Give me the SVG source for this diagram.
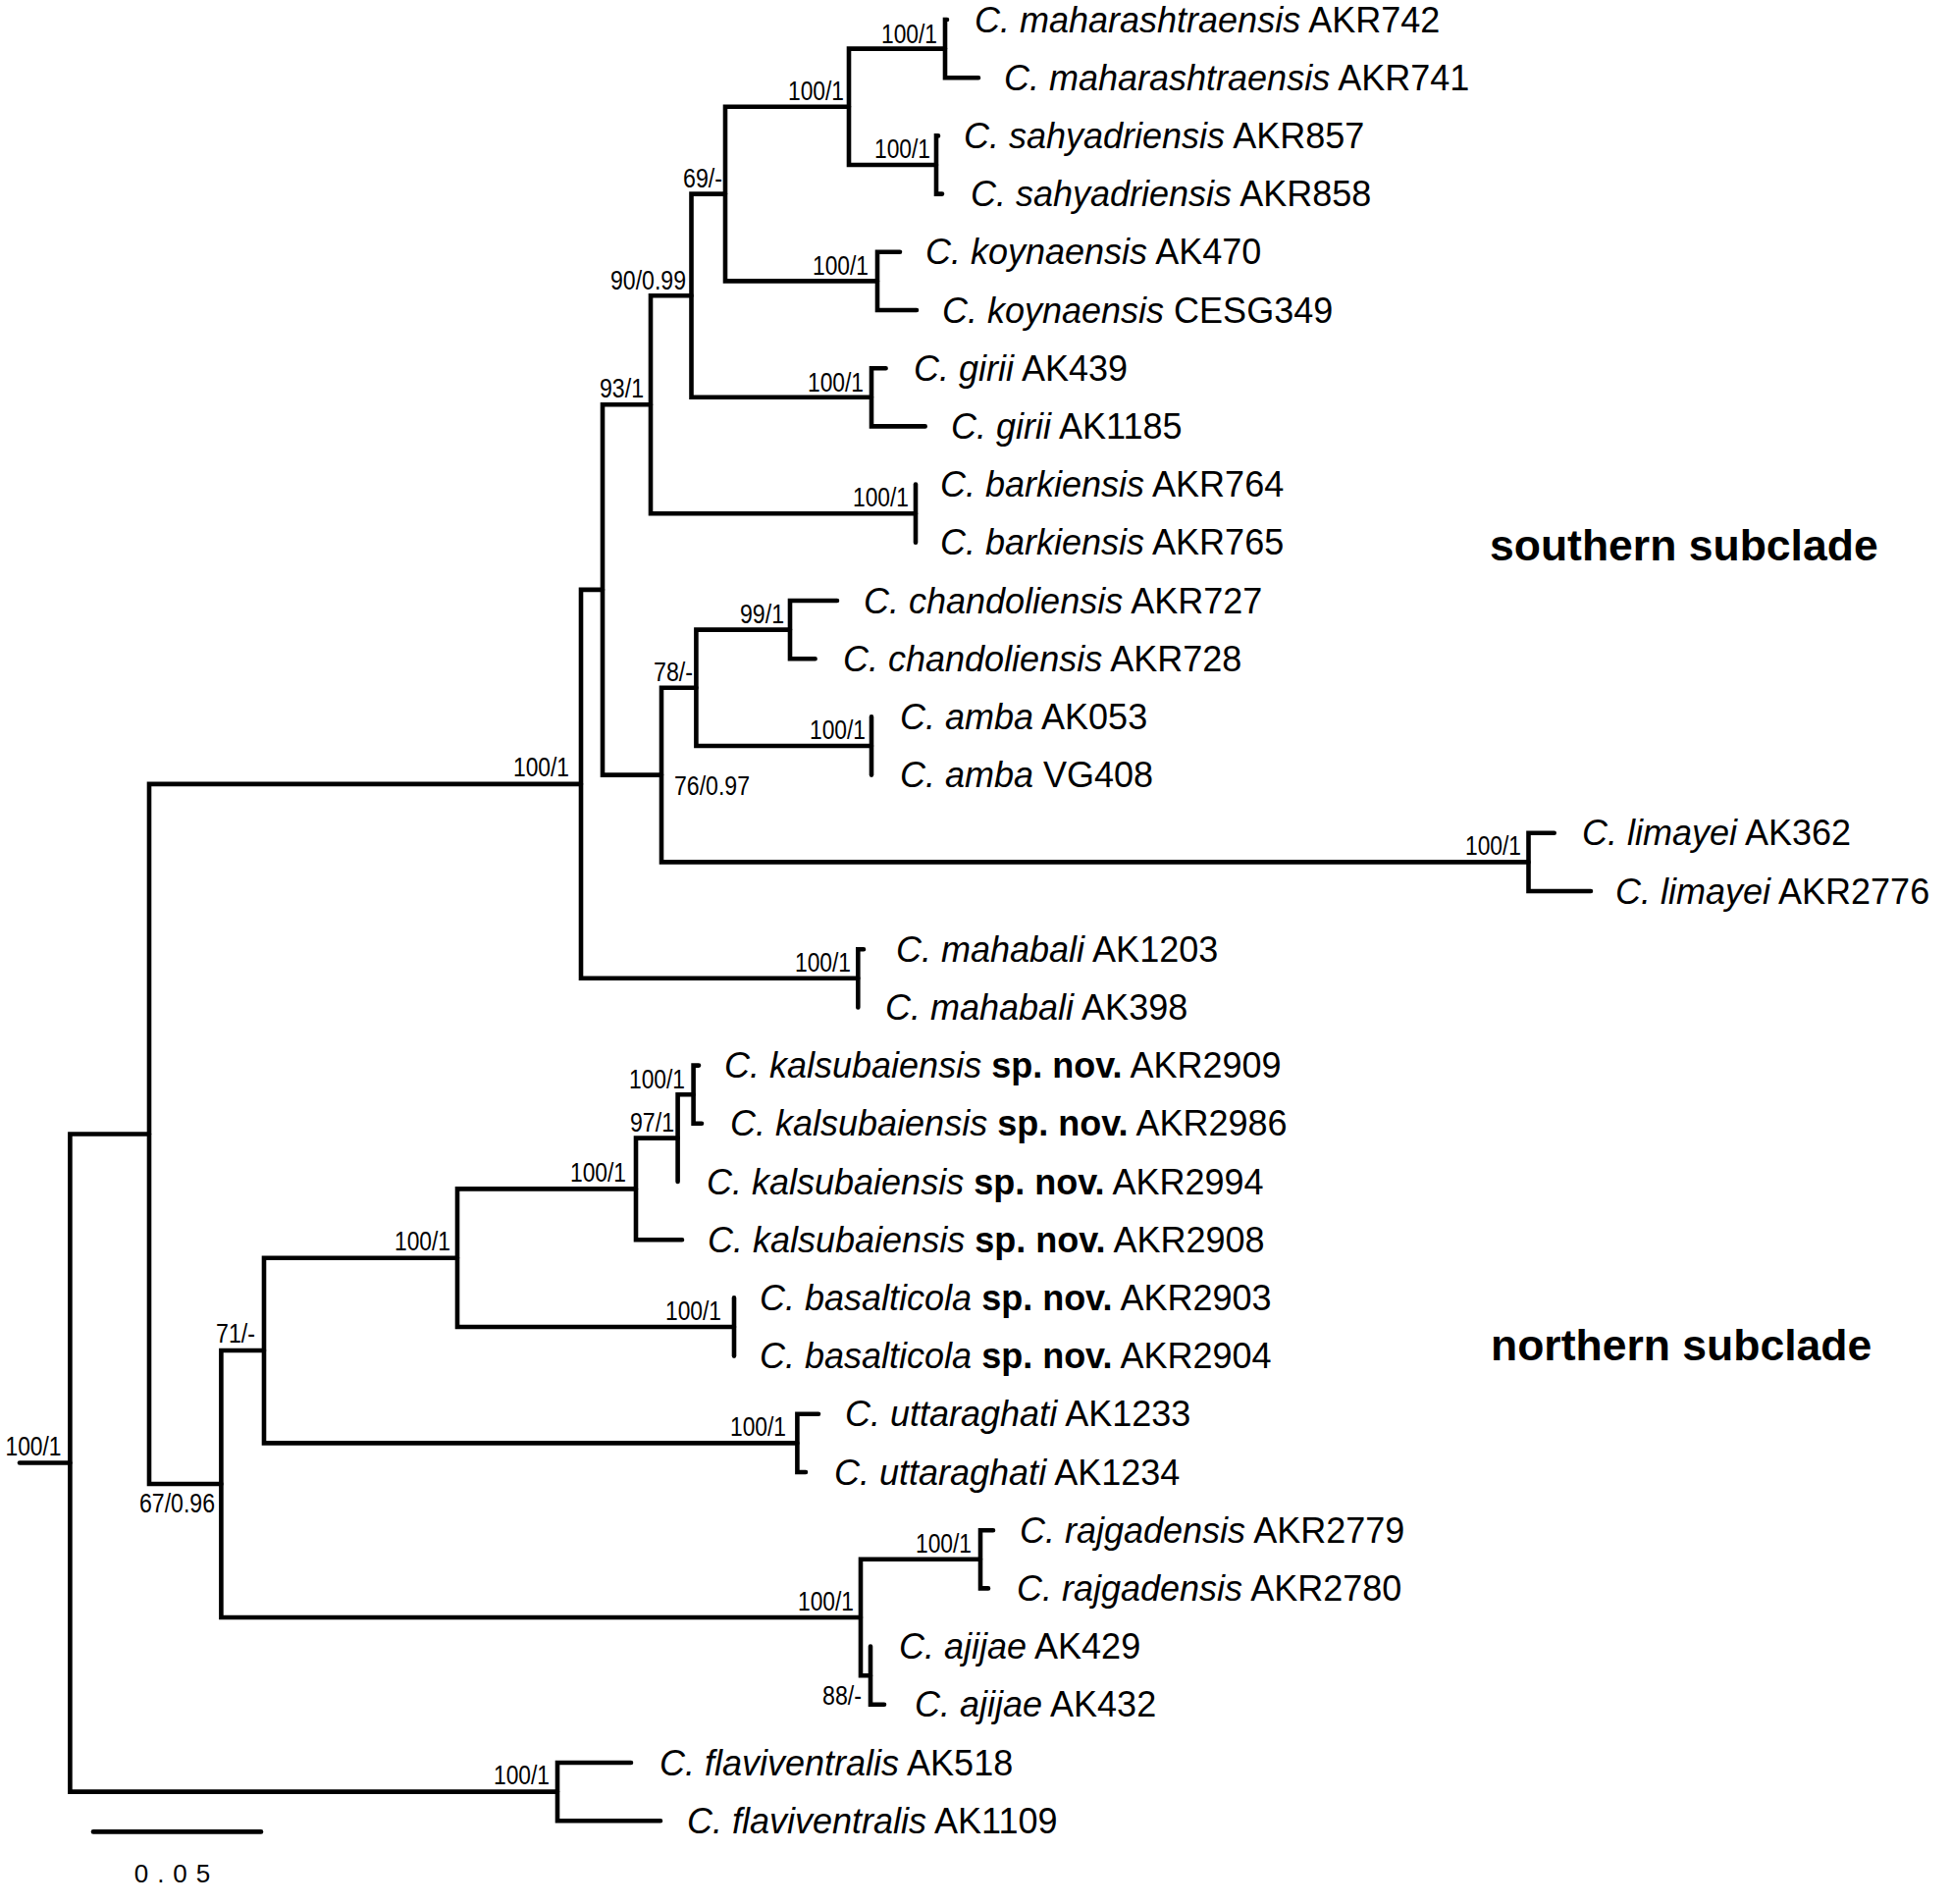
<svg xmlns="http://www.w3.org/2000/svg" width="1988" height="1940" viewBox="0 0 1988 1940">
<style>
.br{fill:none;stroke:#000;stroke-width:4.6;stroke-linecap:round;stroke-linejoin:miter}
.sp{font-family:"Liberation Sans",Arial,sans-serif;font-size:36px;fill:#000}
.sp .i{font-style:italic}
.sp .b{font-weight:bold}
.su{font-family:"Liberation Sans",Arial,sans-serif;font-size:27px;fill:#000;text-anchor:end}
.cl{font-family:"Liberation Sans",Arial,sans-serif;font-size:44.5px;font-weight:bold;fill:#000}
.sc{font-family:"Liberation Sans",Arial,sans-serif;font-size:26px;fill:#000;text-anchor:middle;letter-spacing:9px}
</style>
<rect width="1988" height="1940" fill="#fff"/>
<g id="connectors">
<path class="br" d="M965 20 H963 V79.2 H997"/>
<path class="br" d="M956 138.4 H954 V197.6 H960"/>
<path class="br" d="M963 49.6 H865 V168 H954"/>
<path class="br" d="M917 256.8 H894 V316 H934"/>
<path class="br" d="M865 108.8 H739 V286.4 H894"/>
<path class="br" d="M902.6 375.2 H888 V434.4 H942.7"/>
<path class="br" d="M739 197.6 H704.5 V404.8 H888"/>
<path class="br" d="M933 493.6 V552.8"/>
<path class="br" d="M704.5 301.2 H663 V523.2 H933"/>
<path class="br" d="M853 612 H805 V671.2 H830.6"/>
<path class="br" d="M888 730.4 V789.6"/>
<path class="br" d="M805 641.6 H709.4 V760 H888"/>
<path class="br" d="M1583.7 848.8 H1557.5 V908 H1621"/>
<path class="br" d="M709.4 700.8 H674 V878.4 H1557.5"/>
<path class="br" d="M663 412.2 H614 V789.6 H674"/>
<path class="br" d="M880 967.2 H874.3 V1026.4"/>
<path class="br" d="M614 600.9 H592 V996.8 H874.3"/>
<path class="br" d="M712 1085.6 H706.6 V1144.8 H715"/>
<path class="br" d="M706.6 1115.2 H690.6 V1204"/>
<path class="br" d="M690.6 1159.6 H648 V1263.2 H695"/>
<path class="br" d="M748 1322.4 V1381.6"/>
<path class="br" d="M648 1211.4 H466 V1352 H748"/>
<path class="br" d="M834 1440.8 H812.4 V1500 H821"/>
<path class="br" d="M466 1281.7 H269 V1470.4 H812.4"/>
<path class="br" d="M1012 1559.2 H999 V1618.4 H1007"/>
<path class="br" d="M887 1677.6 V1736.8 H901"/>
<path class="br" d="M999 1588.8 H877 V1707.2 H887"/>
<path class="br" d="M269 1376 H225.4 V1648 H877"/>
<path class="br" d="M592 798.9 H152 V1512 H225.4"/>
<path class="br" d="M643 1796 H568 V1855.2 H673"/>
<path class="br" d="M152 1155.5 H71.4 V1825.6 H568"/>
<path class="br" d="M20 1490.5 H71.4"/>
</g>
<g id="leaves">
<g id="t01"><text class="sp" x="993" y="32.5"><tspan class="i">C. maharashtraensis</tspan> AKR742</text></g>
<g id="t02"><text class="sp" x="1023" y="91.7"><tspan class="i">C. maharashtraensis</tspan> AKR741</text></g>
<g id="t03"><text class="sp" x="982" y="150.9"><tspan class="i">C. sahyadriensis</tspan> AKR857</text></g>
<g id="t04"><text class="sp" x="989" y="210.1"><tspan class="i">C. sahyadriensis</tspan> AKR858</text></g>
<g id="t05"><text class="sp" x="943" y="269.3"><tspan class="i">C. koynaensis</tspan> AK470</text></g>
<g id="t06"><text class="sp" x="960" y="328.5"><tspan class="i">C. koynaensis</tspan> CESG349</text></g>
<g id="t07"><text class="sp" x="931" y="387.7"><tspan class="i">C. girii</tspan> AK439</text></g>
<g id="t08"><text class="sp" x="969" y="446.9"><tspan class="i">C. girii</tspan> AK1185</text></g>
<g id="t09"><text class="sp" x="958" y="506.1"><tspan class="i">C. barkiensis</tspan> AKR764</text></g>
<g id="t10"><text class="sp" x="958" y="565.3"><tspan class="i">C. barkiensis</tspan> AKR765</text></g>
<g id="t11"><text class="sp" x="880" y="624.5"><tspan class="i">C. chandoliensis</tspan> AKR727</text></g>
<g id="t12"><text class="sp" x="859" y="683.7"><tspan class="i">C. chandoliensis</tspan> AKR728</text></g>
<g id="t13"><text class="sp" x="917" y="742.9"><tspan class="i">C. amba</tspan> AK053</text></g>
<g id="t14"><text class="sp" x="917" y="802.1"><tspan class="i">C. amba</tspan> VG408</text></g>
<g id="t15"><text class="sp" x="1612" y="861.3"><tspan class="i">C. limayei</tspan> AK362</text></g>
<g id="t16"><text class="sp" x="1646" y="920.5"><tspan class="i">C. limayei</tspan> AKR2776</text></g>
<g id="t17"><text class="sp" x="913" y="979.7"><tspan class="i">C. mahabali</tspan> AK1203</text></g>
<g id="t18"><text class="sp" x="902" y="1038.9"><tspan class="i">C. mahabali</tspan> AK398</text></g>
<g id="t19"><text class="sp" x="738" y="1098.1"><tspan class="i">C. kalsubaiensis</tspan> <tspan class="b">sp. nov.</tspan> AKR2909</text></g>
<g id="t20"><text class="sp" x="744" y="1157.3"><tspan class="i">C. kalsubaiensis</tspan> <tspan class="b">sp. nov.</tspan> AKR2986</text></g>
<g id="t21"><text class="sp" x="720" y="1216.5"><tspan class="i">C. kalsubaiensis</tspan> <tspan class="b">sp. nov.</tspan> AKR2994</text></g>
<g id="t22"><text class="sp" x="721" y="1275.7"><tspan class="i">C. kalsubaiensis</tspan> <tspan class="b">sp. nov.</tspan> AKR2908</text></g>
<g id="t23"><text class="sp" x="774" y="1334.9"><tspan class="i">C. basalticola</tspan> <tspan class="b">sp. nov.</tspan> AKR2903</text></g>
<g id="t24"><text class="sp" x="774" y="1394.1"><tspan class="i">C. basalticola</tspan> <tspan class="b">sp. nov.</tspan> AKR2904</text></g>
<g id="t25"><text class="sp" x="861" y="1453.3"><tspan class="i">C. uttaraghati</tspan> AK1233</text></g>
<g id="t26"><text class="sp" x="850" y="1512.5"><tspan class="i">C. uttaraghati</tspan> AK1234</text></g>
<g id="t27"><text class="sp" x="1039" y="1571.7"><tspan class="i">C. rajgadensis</tspan> AKR2779</text></g>
<g id="t28"><text class="sp" x="1036" y="1630.9"><tspan class="i">C. rajgadensis</tspan> AKR2780</text></g>
<g id="t29"><text class="sp" x="916" y="1690.1"><tspan class="i">C. ajijae</tspan> AK429</text></g>
<g id="t30"><text class="sp" x="932" y="1749.3"><tspan class="i">C. ajijae</tspan> AK432</text></g>
<g id="t31"><text class="sp" x="672" y="1808.5"><tspan class="i">C. flaviventralis</tspan> AK518</text></g>
<g id="t32"><text class="sp" x="700" y="1867.7"><tspan class="i">C. flaviventralis</tspan> AK1109</text></g>
</g>
<g id="supports">
<g id="n-maha"><text class="su" x="955" y="44" textLength="57" lengthAdjust="spacingAndGlyphs">100/1</text></g>
<g id="n-sahy"><text class="su" x="948" y="161" textLength="57" lengthAdjust="spacingAndGlyphs">100/1</text></g>
<g id="n-ms"><text class="su" x="860" y="102" textLength="57" lengthAdjust="spacingAndGlyphs">100/1</text></g>
<g id="n-koyn"><text class="su" x="885" y="280" textLength="57" lengthAdjust="spacingAndGlyphs">100/1</text></g>
<g id="n-69"><text class="su" x="736" y="191" textLength="40" lengthAdjust="spacingAndGlyphs">69/-</text></g>
<g id="n-90"><text class="su" x="699" y="295" textLength="77" lengthAdjust="spacingAndGlyphs">90/0.99</text></g>
<g id="n-girii"><text class="su" x="880" y="399" textLength="57" lengthAdjust="spacingAndGlyphs">100/1</text></g>
<g id="n-93"><text class="su" x="656" y="405" textLength="45" lengthAdjust="spacingAndGlyphs">93/1</text></g>
<g id="n-bark"><text class="su" x="926" y="516" textLength="57" lengthAdjust="spacingAndGlyphs">100/1</text></g>
<g id="n-chand"><text class="su" x="799" y="635" textLength="45" lengthAdjust="spacingAndGlyphs">99/1</text></g>
<g id="n-78"><text class="su" x="706" y="694" textLength="40" lengthAdjust="spacingAndGlyphs">78/-</text></g>
<g id="n-amba"><text class="su" x="882" y="753" textLength="57" lengthAdjust="spacingAndGlyphs">100/1</text></g>
<g id="n-76"><text class="su" x="687" y="810" style="text-anchor:start" textLength="77" lengthAdjust="spacingAndGlyphs">76/0.97</text></g>
<g id="n-lim"><text class="su" x="1550" y="871" textLength="57" lengthAdjust="spacingAndGlyphs">100/1</text></g>
<g id="n-south"><text class="su" x="580" y="791" textLength="57" lengthAdjust="spacingAndGlyphs">100/1</text></g>
<g id="n-mahab"><text class="su" x="867" y="990" textLength="57" lengthAdjust="spacingAndGlyphs">100/1</text></g>
<g id="n-2909"><text class="su" x="698" y="1109" textLength="57" lengthAdjust="spacingAndGlyphs">100/1</text></g>
<g id="n-97"><text class="su" x="687" y="1153" textLength="45" lengthAdjust="spacingAndGlyphs">97/1</text></g>
<g id="n-kals"><text class="su" x="638" y="1204" textLength="57" lengthAdjust="spacingAndGlyphs">100/1</text></g>
<g id="n-bas"><text class="su" x="735" y="1345" textLength="57" lengthAdjust="spacingAndGlyphs">100/1</text></g>
<g id="n-kb"><text class="su" x="459" y="1274" textLength="57" lengthAdjust="spacingAndGlyphs">100/1</text></g>
<g id="n-71"><text class="su" x="260" y="1368" textLength="40" lengthAdjust="spacingAndGlyphs">71/-</text></g>
<g id="n-utt"><text class="su" x="801" y="1463" textLength="57" lengthAdjust="spacingAndGlyphs">100/1</text></g>
<g id="n-rajg"><text class="su" x="990" y="1582" textLength="57" lengthAdjust="spacingAndGlyphs">100/1</text></g>
<g id="n-ra"><text class="su" x="870" y="1641" textLength="57" lengthAdjust="spacingAndGlyphs">100/1</text></g>
<g id="n-88"><text class="su" x="878" y="1737" textLength="40" lengthAdjust="spacingAndGlyphs">88/-</text></g>
<g id="n-67"><text class="su" x="219" y="1541" textLength="77" lengthAdjust="spacingAndGlyphs">67/0.96</text></g>
<g id="n-root"><text class="su" x="62.5" y="1483" textLength="57" lengthAdjust="spacingAndGlyphs">100/1</text></g>
<g id="n-flav"><text class="su" x="560" y="1818" textLength="57" lengthAdjust="spacingAndGlyphs">100/1</text></g>
</g>
<g id="clades">
<text class="cl" x="1518" y="570.7">southern subclade</text>
<text class="cl" x="1519" y="1386">northern subclade</text>
</g>
<g id="scalebar">
<path class="br" d="M95 1866.4 H266"/>
<text class="sc" x="180" y="1918">0.05</text>
</g>
</svg>
